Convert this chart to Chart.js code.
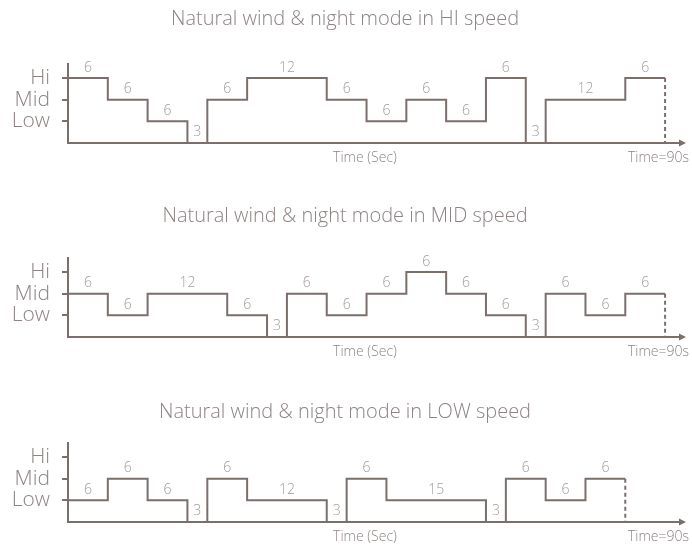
<!DOCTYPE html>
<html>
<head>
<meta charset="utf-8">
<script src="https://cdn.jsdelivr.net/npm/chart.js@4/dist/chart.umd.min.js"></script>
<style>
  html, body { margin: 0; padding: 0; background: #ffffff; width: 692px; height: 547px; overflow: hidden; }
  canvas { position: absolute; left: 0; }
</style>
</head>
<body>
<canvas id="panelHi" width="692" height="182" style="top:0px"></canvas>
<canvas id="panelMid" width="692" height="188" style="top:182px"></canvas>
<canvas id="panelLow" width="692" height="177" style="top:370px"></canvas>
<script>
// Fan speed levels (index = level value)
const levelNames = ['', 'Low', 'Mid', 'Hi'];

// HI speed cycle: level of each step and how long it lasts (seconds)
const hiLevels    = [3, 2, 1, 0, 2, 3, 2, 1, 2, 1, 3, 0, 2, 3];
const hiDurations = [6, 6, 6, 3, 6, 12, 6, 6, 6, 6, 6, 3, 12, 6];

// MID speed cycle
const midLevels    = [2, 1, 2, 1, 0, 2, 1, 2, 3, 2, 1, 0, 2, 1, 2];
const midDurations = [6, 6, 12, 6, 3, 6, 6, 6, 6, 6, 6, 3, 6, 6, 6];

// LOW speed cycle
const lowLevels    = [1, 2, 1, 0, 2, 1, 0, 2, 1, 0, 2, 1, 2];
const lowDurations = [6, 6, 6, 3, 6, 12, 3, 6, 15, 3, 6, 6, 6];

const panelTitles = [
  'Natural wind & night mode in HI speed',
  'Natural wind & night mode in MID speed',
  'Natural wind & night mode in LOW speed'
];
const timeAxisLabel = 'Time (Sec)';
const endLabel = 'Time=90s';
const axisMaxTime = 92.7;
const levelMax = 3.65;

const LINE = '#7b6f6c';
const TITLE = '#8c8482';
const LABEL = '#a39c99';
const FONT = '"Open Sans", "Noto Sans", sans-serif';

function stepPoints(levels, durations) {
  const pts = [];
  let t = 0;
  levels.forEach((lv, i) => { pts.push({ x: t, y: lv }); t += durations[i]; });
  pts.push({ x: t, y: levels[levels.length - 1] });
  return pts;
}

const decor = {
  id: 'decor',
  afterDraw(chart, args, o) {
    const { ctx, chartArea: a, scales: { x, y } } = chart;
    ctx.save();

    // panel title
    ctx.fillStyle = TITLE;
    ctx.font = '300 20px ' + FONT;
    ctx.textAlign = 'center';
    ctx.textBaseline = 'alphabetic';
    ctx.fillText(o.title, 345, o.titleY);

    // duration of each step, above the step
    ctx.fillStyle = LABEL;
    ctx.font = '300 14px ' + FONT;
    ctx.textBaseline = 'middle';
    let t = 0;
    o.durations.forEach((d, i) => {
      const px = x.getPixelForValue(t + d / 2);
      const py = y.getPixelForValue(o.levels[i]) - 10.5;
      ctx.fillText(String(d), px, py);
      t += d;
    });

    // axis captions
    ctx.fillStyle = TITLE;
    ctx.font = '300 14px ' + FONT;
    ctx.fillText(timeAxisLabel, 365, a.bottom + 15);
    ctx.textAlign = 'right';
    ctx.fillText(endLabel, 689, a.bottom + 15);

    // arrow head at the end of the time axis
    ctx.fillStyle = LINE;
    ctx.beginPath();
    ctx.moveTo(a.right + 3, a.bottom);
    ctx.lineTo(a.right - 4, a.bottom - 3.5);
    ctx.lineTo(a.right - 4, a.bottom + 3.5);
    ctx.closePath();
    ctx.fill();

    ctx.restore();
  }
};

function makePanel(id, title, titleY, levels, durations, padTop, padBottom) {
  const pts = stepPoints(levels, durations);
  const end = pts[pts.length - 1];
  new Chart(document.getElementById(id), {
    type: 'line',
    data: {
      datasets: [
        {
          data: pts,
          stepped: 'before',
          borderColor: LINE,
          borderWidth: 2,
          borderJoinStyle: 'miter',
          borderCapStyle: 'butt',
          pointRadius: 0,
          fill: false,
          clip: false
        },
        {
          data: [{ x: end.x, y: end.y }, { x: end.x, y: 0 }],
          borderColor: LINE,
          borderWidth: 2,
          borderDash: [4, 3],
          borderCapStyle: 'butt',
          pointRadius: 0,
          fill: false,
          clip: false
        }
      ]
    },
    options: {
      responsive: false,
      animation: false,
      devicePixelRatio: 1,
      layout: { padding: { top: padTop, bottom: padBottom, left: 0, right: 9 } },
      plugins: {
        legend: { display: false },
        tooltip: { enabled: false },
        decor: { title, titleY, levels, durations }
      },
      scales: {
        x: {
          type: 'linear',
          min: 0,
          max: axisMaxTime,
          ticks: { display: false },
          grid: { display: false, drawTicks: false },
          border: { display: true, color: LINE, width: 2 },
          afterFit(s) { s.height = 0; }
        },
        y: {
          type: 'linear',
          min: 0,
          max: levelMax,
          afterBuildTicks(s) { s.ticks = [1, 2, 3].map(v => ({ value: v })); },
          afterFit(s) { s.width = 68; },
          ticks: {
            padding: 12,
            color: TITLE,
            font: { family: FONT, size: 21, weight: '300' },
            callback: v => levelNames[v] || ''
          },
          grid: { drawOnChartArea: false, drawTicks: true, tickLength: 6, color: LINE, lineWidth: 2 },
          border: { display: true, color: LINE, width: 2 }
        }
      }
    },
    plugins: [decor]
  });
}

function build() {
  makePanel('panelHi', panelTitles[0], 25, hiLevels, hiDurations, 64, 39);
  makePanel('panelMid', panelTitles[1], 40, midLevels, midDurations, 76, 33);
  makePanel('panelLow', panelTitles[2], 48, lowLevels, lowDurations, 73, 25);
}

Promise.all([
  document.fonts.load('300 20px "Open Sans"'),
  document.fonts.load('300 14px "Open Sans"')
]).then(build, build);
</script>
</body>
</html>
